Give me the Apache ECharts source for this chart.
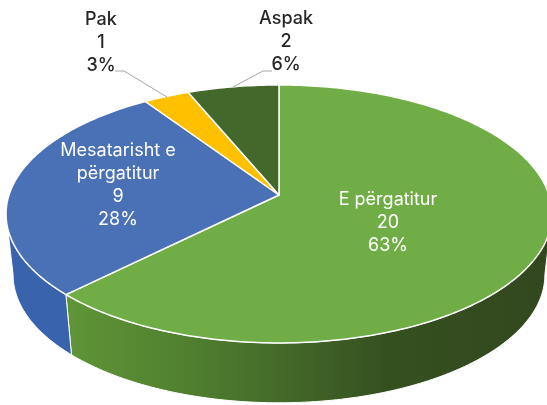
<!DOCTYPE html>
<html><head><meta charset="utf-8">
<style>html,body{margin:0;padding:0;background:#fff}#c{width:547px;height:405px}</style>
<script src="https://cdn.jsdelivr.net/npm/echarts@6/dist/echarts.min.js"></script>
</head><body><div id="c"></div>
<script>
const categories = ['E përgatitur', 'Mesatarisht e\npërgatitur', 'Pak', 'Aspak'];
const values = [20, 9, 1, 2];
const percents = ['63%', '28%', '3%', '6%'];
const topColors = ['#70ad47', '#4a70b5', '#ffc000', '#43682b'];
const sideColors = [
  [[0, '#609538'], [0.25, '#50802f'], [0.45, '#43692a'], [0.66, '#35501f'], [1, '#33471f']],
  [[0, '#3a63ad'], [1, '#3a63ad']], null, null
];
const labelSpots = [[388, 200], [118, 151], [101, 20], [286, 19]];
const labelColors = ['#fff', '#fff', '#262626', '#262626'];
const labelWeights = [400, 400, 500, 500];
const leaders = [null, null, [[115, 71], [124, 71], [167, 97]], [[272, 71], [263, 71], [233, 87]]];

const K = 0.147, TILT = [279, 195, 270, 126.2], BASE = [279, 256, 263, 125.2];
const FONT = 'Inter';
const total = values.reduce((a, b) => a + b, 0);
const project = (p, deg) => {
  const t = deg * Math.PI / 180, d = 1 + K * Math.cos(t);
  return [p[0] + p[2] * Math.sin(t) / d, p[1] - p[3] * Math.cos(t) / d];
};
const arc = (p, a, b) => {
  const pts = [], n = Math.max(2, Math.ceil(Math.abs(b - a)));
  for (let i = 0; i <= n; i++) pts.push(project(p, a + (b - a) * i / n));
  return pts;
};
const SIDE_FROM = 98.5, SIDE_TO = 261.5;

function renderItem(params, api) {
  const i = params.dataIndex;
  let acc = 0;
  for (let j = 0; j < i; j++) acc += values[j];
  const v = api.value(1);
  const a = acc / total * 360, b = (acc + v) / total * 360;
  const kids = [];
  const s = Math.max(a, SIDE_FROM), e = Math.min(b, SIDE_TO);
  if (e > s && sideColors[i]) {
    kids.push({
      type: 'polygon', z2: 1,
      shape: { points: arc(TILT, s, e).concat(arc(BASE, e, s)) },
      style: {
        fill: { type: 'linear', x: 0, y: 0, x2: 1, y2: 0,
          colorStops: sideColors[i].map(c => ({ offset: c[0], color: c[1] })) },
        stroke: '#fff', lineWidth: 1, lineJoin: 'round'
      }
    });
  }
  kids.push({
    type: 'polygon', z2: 2,
    shape: { points: [[TILT[0], TILT[1]]].concat(arc(TILT, a, b)) },
    style: { fill: topColors[i], stroke: '#fff', lineWidth: 1.5, lineJoin: 'round' }
  });
  if (leaders[i]) {
    kids.push({ type: 'polyline', z2: 3, shape: { points: leaders[i] },
      style: { fill: 'none', stroke: '#a6a6a6', lineWidth: 1 } });
  }
  const lines = categories[i].split('\n').concat([String(v), percents[i]]);
  lines.forEach((t, n) => {
    kids.push({ type: 'text', z2: 4,
      style: { text: t, x: labelSpots[i][0], y: labelSpots[i][1] + n * 22.8,
        align: 'center', verticalAlign: 'middle', fill: labelColors[i],
        font: labelWeights[i] + ' 18px ' + FONT } });
  });
  return { type: 'group', children: kids };
}

const chart = echarts.init(document.getElementById('c'), null, { renderer: 'canvas' });
chart.setOption({
  animation: false,
  backgroundColor: '#fff',
  series: [{
    type: 'custom',
    coordinateSystem: 'none',
    renderItem,
    data: categories.map((c, i) => [c, values[i]]),
    silent: true
  }]
});
</script></body></html>
